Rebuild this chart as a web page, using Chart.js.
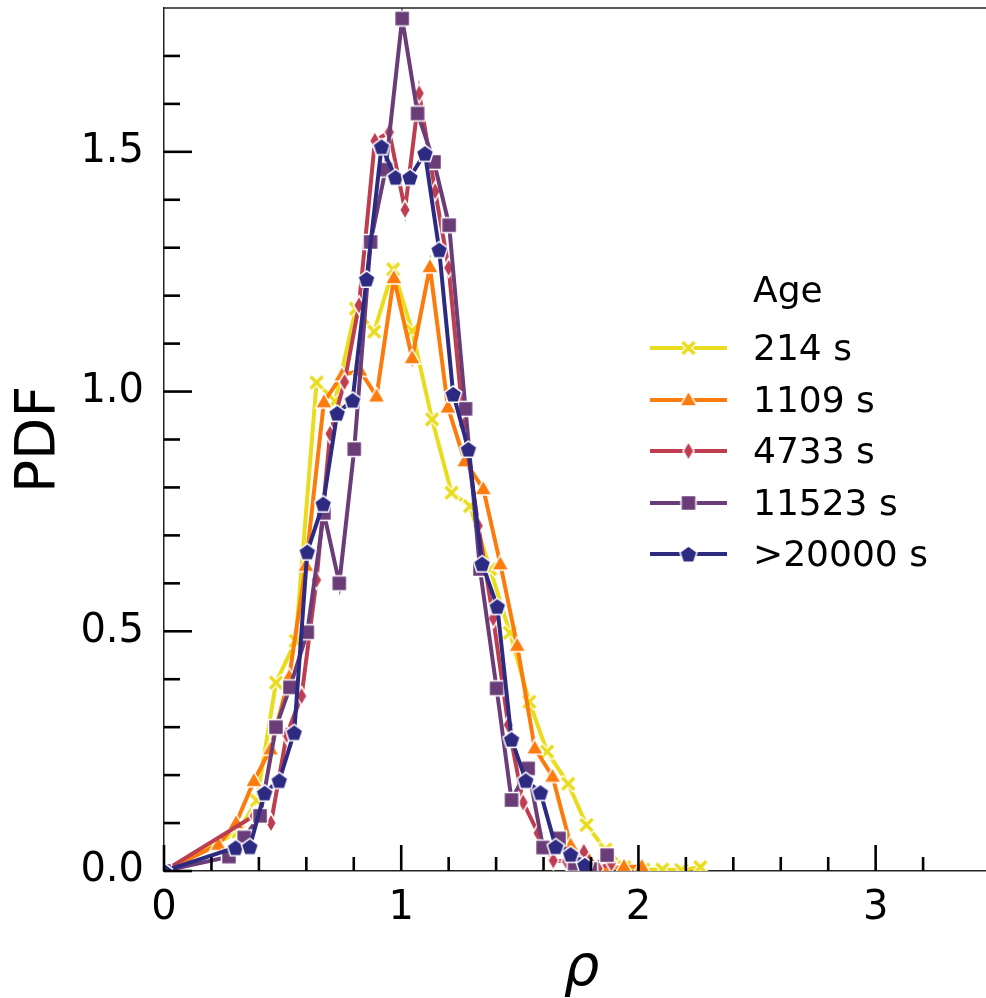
<!DOCTYPE html>
<html>
<head>
<meta charset="utf-8">
<script src="https://cdn.jsdelivr.net/npm/chart.js@4.4.1/dist/chart.umd.min.js"></script>
<style>
  html, body { margin: 0; padding: 0; background: #fff; overflow: hidden; }
  #wrap { position: relative; width: 1011px; height: 998px; overflow: hidden; }
  #chart { position: absolute; left: 0; top: -4px; }
  .lg { position: absolute; font-family: 'DejaVu Sans', sans-serif; font-size: 36px; color: #000; height: 50px; line-height: 50px; white-space: nowrap; }
  .lgs { position: absolute; }
</style>
</head>
<body>
<div id="wrap">
  <canvas id="chart" width="1011" height="1002"></canvas>
  <div id="legend"></div>
</div>
<script>
// ---------------- DATA ----------------
const seriesLabels = ['214 s', '1109 s', '4733 s', '11523 s', '>20000 s'];
const legendTitle = 'Age';
const xAxisTitle = 'ρ';
const yAxisTitle = 'PDF';

const rho214  = [0, 0.313, 0.391, 0.472, 0.555, 0.643, 0.721, 0.809, 0.886, 0.966, 1.046, 1.130, 1.212, 1.290, 1.375, 1.458, 1.540, 1.615, 1.704, 1.781, 1.861, 1.941, 2.021, 2.101, 2.181, 2.261];
const pdf214  = [0, 0.082, 0.147, 0.393, 0.480, 1.019, 0.980, 1.173, 1.125, 1.255, 1.127, 0.942, 0.789, 0.761, 0.630, 0.497, 0.353, 0.249, 0.182, 0.096, 0.045, 0.008, 0.003, 0.003, 0.002, 0.008];

const rho1109 = [0, 0.229, 0.304, 0.379, 0.449, 0.528, 0.598, 0.674, 0.750, 0.826, 0.896, 0.969, 1.046, 1.121, 1.197, 1.268, 1.346, 1.418, 1.489, 1.563, 1.638, 1.714, 1.789, 1.864, 1.939, 2.014];
const pdf1109 = [0, 0.055, 0.100, 0.188, 0.254, 0.405, 0.637, 0.978, 1.034, 1.044, 0.990, 1.237, 1.070, 1.260, 0.967, 0.855, 0.797, 0.640, 0.470, 0.256, 0.197, 0.054, 0.025, 0.004, 0.009, 0.009];

const rho4733 = [0, 0.380, 0.451, 0.517, 0.580, 0.643, 0.700, 0.761, 0.822, 0.889, 0.950, 1.016, 1.076, 1.143, 1.200, 1.263, 1.325, 1.388, 1.451, 1.514, 1.577, 1.641, 1.697, 1.770, 1.830, 1.886];
const pdf4733 = [0, 0.115, 0.100, 0.284, 0.365, 0.607, 0.912, 1.020, 1.180, 1.523, 1.541, 1.379, 1.622, 1.418, 1.258, 0.930, 0.720, 0.527, 0.305, 0.143, 0.079, 0.022, 0.020, 0.040, 0.005, 0.016];

const rho11523 = [0, 0.274, 0.338, 0.405, 0.472, 0.531, 0.604, 0.674, 0.739, 0.802, 0.871, 0.934, 1.004, 1.069, 1.138, 1.202, 1.271, 1.332, 1.402, 1.465, 1.535, 1.598, 1.665, 1.731, 1.797, 1.868];
const pdf11523 = [0, 0.030, 0.070, 0.115, 0.300, 0.383, 0.498, 0.747, 0.600, 0.880, 1.312, 1.463, 1.778, 1.580, 1.479, 1.347, 0.964, 0.630, 0.381, 0.148, 0.214, 0.049, 0.068, 0.015, 0.004, 0.033];

const rho20000 = [0, 0.302, 0.362, 0.424, 0.486, 0.549, 0.604, 0.671, 0.730, 0.795, 0.854, 0.917, 0.976, 1.037, 1.100, 1.160, 1.219, 1.283, 1.341, 1.405, 1.465, 1.525, 1.587, 1.651, 1.714, 1.774];
const pdf20000 = [0, 0.049, 0.051, 0.163, 0.189, 0.289, 0.666, 0.766, 0.955, 0.982, 1.235, 1.511, 1.447, 1.447, 1.497, 1.296, 0.995, 0.880, 0.641, 0.552, 0.275, 0.189, 0.164, 0.051, 0.035, 0.0125];

const xTickStep = 0.2;
const yTickStep = 0.1;
// ------------------------------------------------------------------------

const seriesX = [rho214, rho1109, rho4733, rho11523, rho20000];
const seriesY = [pdf214, pdf1109, pdf4733, pdf11523, pdf20000];
const colors  = ['#e9dc1c', '#fb7b0c', '#bd3e50', '#6b3d78', '#2d2a82'];
const markers = ['x', 'tri', 'thin_diamond', 'square', 'pentagon'];

function makeMarker(kind, color) {
  const c = document.createElement('canvas');
  c.width = 28; c.height = 28;
  const g = c.getContext('2d');
  g.translate(14, 14);
  g.lineJoin = 'miter';
  g.fillStyle = color;
  g.strokeStyle = '#ffffff';
  g.lineWidth = 1.5;
  const poly = (pts) => { g.beginPath(); pts.forEach((p, i) => i ? g.lineTo(p[0], p[1]) : g.moveTo(p[0], p[1])); g.closePath(); g.fill(); g.stroke(); };
  if (kind === 'x') {
    const r = 6;
    g.lineCap = 'butt';
    g.strokeStyle = '#ffffff'; g.lineWidth = 6;
    g.beginPath(); g.moveTo(-r - 1, -r - 1); g.lineTo(r + 1, r + 1); g.moveTo(-r - 1, r + 1); g.lineTo(r + 1, -r - 1); g.stroke();
    g.strokeStyle = color; g.lineWidth = 3.4;
    g.beginPath(); g.moveTo(-r, -r); g.lineTo(r, r); g.moveTo(-r, r); g.lineTo(r, -r); g.stroke();
  } else if (kind === 'tri') {
    poly([[0, -9], [8.5, 6], [-8.5, 6]]);
  } else if (kind === 'thin_diamond') {
    poly([[0, -9.5], [5.5, 0], [0, 9.5], [-5.5, 0]]);
  } else if (kind === 'square') {
    poly([[-7.5, -7.5], [7.5, -7.5], [7.5, 7.5], [-7.5, 7.5]]);
  } else if (kind === 'pentagon') {
    const pts = [];
    for (let k = 0; k < 5; k++) { const a = -Math.PI / 2 + k * 2 * Math.PI / 5; pts.push([9 * Math.cos(a), 9 * Math.sin(a) + 0.9]); }
    poly(pts);
  }
  return c;
}

const markerImgs = markers.map((m, i) => makeMarker(m, colors[i]));

const datasets = seriesLabels.map((lab, i) => ({
  label: lab,
  data: seriesX[i].map((xv, k) => ({ x: xv, y: seriesY[i][k] })),
  borderColor: colors[i],
  backgroundColor: colors[i],
  borderWidth: 4,
  tension: 0,
  pointStyle: markerImgs[i],
  pointRadius: 8,
  pointHoverRadius: 8,
  order: seriesLabels.length - i
}));

const isNear = (v, step) => Math.abs(v / step - Math.round(v / step)) < 1e-6;

const tickMarks = {
  id: 'tickMarks',
  afterDraw(chart) {
    const { ctx, chartArea: a, scales: { x, y } } = chart;
    ctx.save();
    ctx.strokeStyle = '#000';
    ctx.lineWidth = 2.6;
    ctx.lineCap = 'butt';
    x.ticks.forEach((t, i) => {
      const px = x.getPixelForTick(i);
      if (px > a.right - 1) return;
      const len = isNear(t.value, 1) ? 26 : 14;
      ctx.beginPath(); ctx.moveTo(px, a.bottom); ctx.lineTo(px, a.bottom - len); ctx.stroke();
    });
    y.ticks.forEach((t, i) => {
      const py = y.getPixelForTick(i);
      if (py < a.top + 1) return;
      const len = isNear(t.value, 0.5) ? 28 : 16;
      ctx.beginPath(); ctx.moveTo(a.left, py); ctx.lineTo(a.left + len, py); ctx.stroke();
    });
    ctx.strokeStyle = '#222';
    ctx.lineWidth = 1.5;
    ctx.beginPath(); ctx.moveTo(a.left, a.top); ctx.lineTo(a.right, a.top); ctx.stroke();
    ctx.restore();
  }
};

Chart.defaults.font.family = "'DejaVu Sans', sans-serif";
Chart.defaults.color = '#000';

new Chart(document.getElementById('chart'), {
  type: 'line',
  data: { datasets },
  options: {
    responsive: false,
    animation: false,
    devicePixelRatio: 1,
    layout: { padding: { top: 4, right: 2, left: 0, bottom: 0 } },
    plugins: { legend: { display: false }, tooltip: { enabled: false } },
    scales: {
      x: {
        type: 'linear', min: 0, max: 3.52,
        grid: { display: false, drawTicks: false },
        border: { display: true, color: '#222', width: 1.5 },
        ticks: {
          stepSize: xTickStep, padding: 14, autoSkip: false, maxRotation: 0,
          font: { size: 40 },
          callback: (v) => isNear(v, 1) ? String(Math.round(v)) : ''
        },
        title: { display: true, text: xAxisTitle, font: { size: 56, style: 'italic', lineHeight: 1 }, padding: { top: 0, bottom: 0 } },
        afterFit: (s) => { s.height = 127; s.paddingLeft = 0; s.paddingRight = 0; }
      },
      y: {
        type: 'linear', min: 0, max: 1.8,
        grid: { display: false, drawTicks: false },
        border: { display: true, color: '#222', width: 1.5 },
        ticks: {
          stepSize: yTickStep, padding: 20, autoSkip: false,
          font: { size: 40 },
          callback: (v) => isNear(v, 0.5) ? v.toFixed(1) : ''
        },
        title: { display: true, text: yAxisTitle, font: { size: 55, lineHeight: 1 }, padding: { top: 12, bottom: 0 } },
        afterFit: (s) => { s.width = 164; s.paddingTop = 0; s.paddingBottom = 0; }
      }
    }
  },
  plugins: [tickMarks]
});

// Legend (HTML text, canvas samples)
const lg = document.getElementById('legend');
function addText(txt, left, cy) {
  const d = document.createElement('div');
  d.className = 'lg';
  d.textContent = txt;
  d.style.left = left + 'px';
  d.style.top = (cy - 25) + 'px';
  lg.appendChild(d);
}
addText(legendTitle, 753, 290);
seriesLabels.forEach((lab, i) => {
  const cy = 348 + i * 51.5;
  const c = document.createElement('canvas');
  c.width = 84; c.height = 28; c.className = 'lgs';
  c.style.left = '647px'; c.style.top = (cy - 14) + 'px';
  const g = c.getContext('2d');
  g.strokeStyle = colors[i]; g.lineWidth = 4;
  g.beginPath(); g.moveTo(3, 14); g.lineTo(80, 14); g.stroke();
  g.drawImage(markerImgs[i], 41.5 - 14, 0);
  lg.appendChild(c);
  addText(lab, 753, cy);
});
</script>
</body>
</html>
